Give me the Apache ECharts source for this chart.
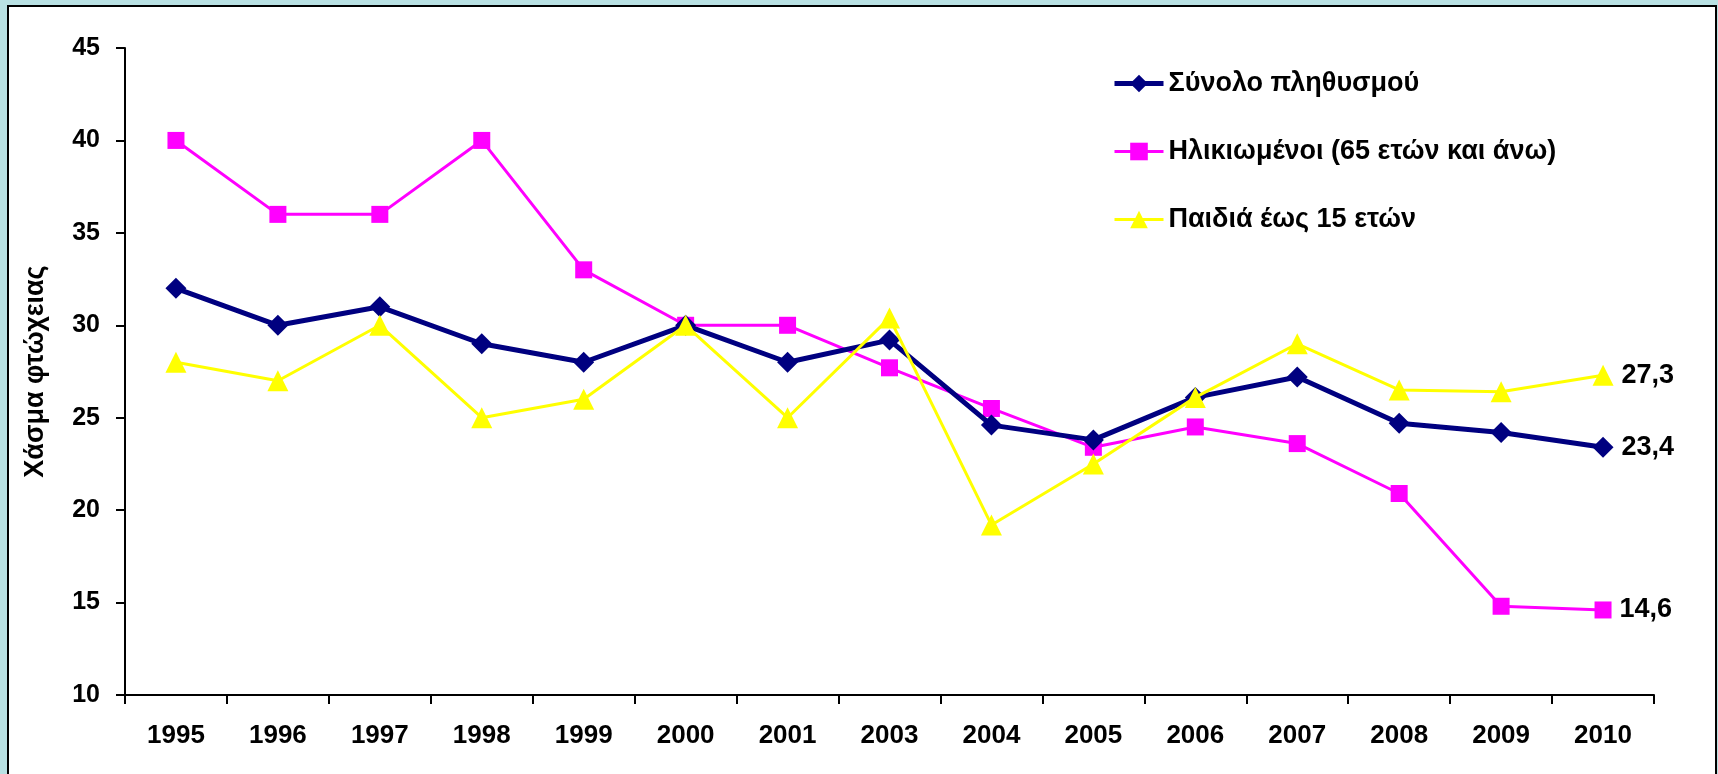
<!DOCTYPE html>
<html>
<head>
<meta charset="utf-8">
<script src="https://cdn.jsdelivr.net/npm/echarts@6/dist/echarts.min.js"></script>
<style>
  html, body {
    margin: 0;
    padding: 0;
    width: 1718px;
    height: 774px;
    overflow: hidden;
    background: #b9e1e3;
  }
  .frame {
    position: absolute;
    left: 7px;
    top: 5px;
    width: 1706px;
    height: 800px;
    background: #ffffff;
    border: 2px solid #000;
  }
  #chart {
    position: absolute;
    left: 0;
    top: 0;
    width: 1718px;
    height: 774px;
  }
</style>
</head>
<body>
<div class="frame"></div>
<div id="chart"></div>
<script>
// years on the x axis (2002 missing in the source)
const years = ['1995', '1996', '1997', '1998', '1999', '2000', '2001', '2003',
  '2004', '2005', '2006', '2007', '2008', '2009', '2010']

const totalPop = [32, 30, 31, 29, 28, 30, 28, 29.2, 24.6, 23.8, 26.1, 27.2, 24.7, 24.2, 23.4]
const elderly = [40, 36, 36, 40, 33, 30, 30, 27.7, 25.5, 23.4, 24.5, 23.6, 20.9, 14.8, 14.6]
const children = [28, 27, 30, 25, 26, 30, 25, 30.4, 19.2, 22.5, 26.1, 29, 26.5, 26.4, 27.3]

const seriesNames = ['Σύνολο πληθυσμού', 'Ηλικιωμένοι (65 ετών και άνω)', 'Παιδιά έως 15 ετών']

const font = '"Liberation Sans", Arial, sans-serif'

const chart = echarts.init(document.getElementById('chart'))

// only the last point carries a value label
const withEndLabel = (arr) => arr.map((v, i) => {
  if (i !== arr.length - 1) return v
  return {
    value: v,
    label: {
      show: true,
      position: 'right',
      distance: 8,
      color: '#000',
      fontFamily: font,
      fontWeight: 'bold',
      fontSize: 27,
      formatter: (p) => String(p.value).replace('.', ',')
    }
  }
})

const option = {
  animation: false,
  backgroundColor: 'transparent',
  textStyle: { fontFamily: font },
  grid: {
    left: 125,
    right: 64,
    top: 48,
    bottom: 79
  },
  legend: {
    orient: 'vertical',
    left: 1107,
    top: 65,
    itemWidth: 49,
    itemHeight: 22,
    itemGap: 41,
    textStyle: {
      color: '#000',
      fontFamily: font,
      fontWeight: 'bold',
      fontSize: 27
    },
    data: [
      { name: seriesNames[0], lineStyle: { width: 5 } },
      { name: seriesNames[1], lineStyle: { width: 3 } },
      { name: seriesNames[2], lineStyle: { width: 3 } }
    ]
  },
  xAxis: {
    type: 'category',
    data: years,
    boundaryGap: true,
    axisLine: { lineStyle: { color: '#000', width: 2 } },
    axisTick: { show: true, length: 9, lineStyle: { color: '#000', width: 2 } },
    axisLabel: {
      color: '#000',
      fontFamily: font,
      fontWeight: 'bold',
      fontSize: 26,
      margin: 28,
      interval: 0
    },
    splitLine: { show: false }
  },
  yAxis: {
    type: 'value',
    min: 10,
    max: 45,
    interval: 5,
    name: 'Χάσμα φτώχειας',
    nameLocation: 'middle',
    nameGap: 76,
    nameTextStyle: {
      color: '#000',
      fontFamily: font,
      fontWeight: 'bold',
      fontSize: 27
    },
    axisLine: { show: true, lineStyle: { color: '#000', width: 2 } },
    axisTick: { show: true, length: 9, lineStyle: { color: '#000', width: 2 } },
    axisLabel: {
      color: '#000',
      fontFamily: font,
      fontWeight: 'bold',
      fontSize: 25,
      margin: 25
    },
    splitLine: { show: false }
  },
  series: [
    {
      name: seriesNames[0],
      type: 'line',
      data: withEndLabel(totalPop),
      symbol: 'diamond',
      symbolSize: 21,
      z: 4,
      lineStyle: { color: '#000080', width: 5 },
      itemStyle: { color: '#000080' }
    },
    {
      name: seriesNames[1],
      type: 'line',
      data: withEndLabel(elderly),
      symbol: 'rect',
      symbolSize: 17,
      z: 3,
      lineStyle: { color: '#ff00ff', width: 3 },
      itemStyle: { color: '#ff00ff' }
    },
    {
      name: seriesNames[2],
      type: 'line',
      data: withEndLabel(children),
      symbol: 'triangle',
      symbolSize: 21,
      z: 5,
      lineStyle: { color: '#ffff00', width: 3 },
      itemStyle: { color: '#ffff00' }
    }
  ]
}

chart.setOption(option)
</script>
</body>
</html>
